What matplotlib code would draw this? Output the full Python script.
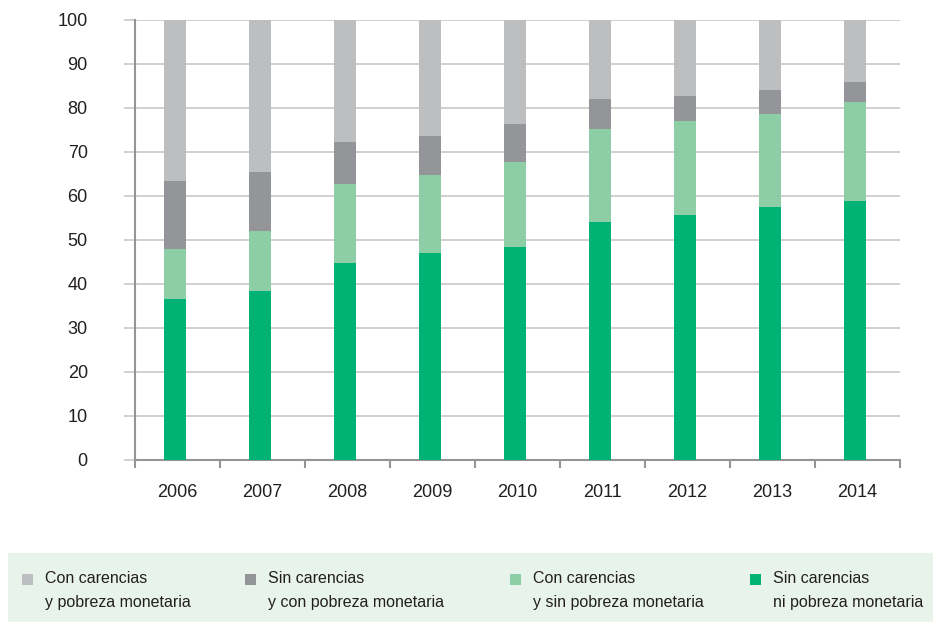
import numpy as np
import matplotlib.pyplot as plt
from matplotlib.patches import Rectangle

plt.rcParams['font.family'] = ['Liberation Sans Narrow', 'Liberation Sans', 'DejaVu Sans']

# Datos (porcentaje acumulado)
years = ['2006', '2007', '2008', '2009', '2010', '2011', '2012', '2013', '2014']
sin_car_ni_pob = [36.6, 38.4, 44.8, 47.0, 48.4, 54.1, 55.7, 57.5, 58.9]
con_car_sin_pob = [11.4, 13.6, 17.9, 17.8, 19.3, 21.1, 21.3, 21.1, 22.5]
sin_car_con_pob = [15.4, 13.5, 9.6, 8.8, 8.7, 6.8, 5.7, 5.6, 4.5]
con_car_y_pob = [100 - a - b - c for a, b, c in zip(sin_car_ni_pob, con_car_sin_pob, sin_car_con_pob)]

labels = ['Con carencias\ny pobreza monetaria',
          'Sin carencias\ny con pobreza monetaria',
          'Con carencias\ny sin pobreza monetaria',
          'Sin carencias\nni pobreza monetaria']
colores = ['#bcbec0', '#939598', '#8dcea7', '#00b274']

fig = plt.figure(figsize=(9.33, 6.22), dpi=100)
ax = fig.add_axes([135/933, 1 - 460/622, 765/933, 440/622])

x = np.arange(len(years)) - 0.03
w = 0.25
ax.bar(x, sin_car_ni_pob, w, color=colores[3], zorder=3)
b1 = np.array(sin_car_ni_pob)
ax.bar(x, con_car_sin_pob, w, bottom=b1, color=colores[2], zorder=3)
b2 = b1 + np.array(con_car_sin_pob)
ax.bar(x, sin_car_con_pob, w, bottom=b2, color=colores[1], zorder=3)
b3 = b2 + np.array(sin_car_con_pob)
ax.bar(x, con_car_y_pob, w, bottom=b3, color=colores[0], zorder=3)

ax.set_xlim(-0.5, len(years) - 0.5)
ax.set_ylim(0, 100)
ax.set_yticks(np.arange(0, 101, 10))
ax.grid(axis='y', color='#c8c8c8', lw=1.2, zorder=0)
ax.tick_params(axis='y', length=8, color='#c8c8c8', width=1.2, labelsize=13, pad=26, labelcolor='#231f20')

# ticks del eje x en los limites de categoria
ax.set_xticks(np.arange(len(years) + 1) - 0.5)
ax.set_xticklabels([])
ax.set_xticks(np.arange(len(years)), minor=True)
ax.set_xticklabels(years, minor=True, fontsize=13, color='#231f20')
ax.tick_params(axis='x', which='major', length=6, color='#939598', width=1.5)
ax.tick_params(axis='x', which='minor', length=0, pad=17)

for s in ['top', 'right']:
    ax.spines[s].set_visible(False)
for s in ['left', 'bottom']:
    ax.spines[s].set_color('#939598')
    ax.spines[s].set_linewidth(1.5)

# Leyenda manual
fig.patches.append(Rectangle((8/933, 0), 925/933, 69/622, transform=fig.transFigure,
                             facecolor='#e8f3ec', edgecolor='none'))
xs = [22, 245, 510, 750]
for xi, lab, c in zip(xs, labels, colores):
    fig.patches.append(Rectangle((xi/933, 1 - 585/622), 11/933, 11/622,
                                 transform=fig.transFigure, facecolor=c, edgecolor='none'))
    fig.text((xi + 23)/933, 1 - 571/622, lab, fontsize=11.5, va='top', ha='left',
             linespacing=1.75, color='#231f20')

fig.savefig('out.png', dpi=100)
